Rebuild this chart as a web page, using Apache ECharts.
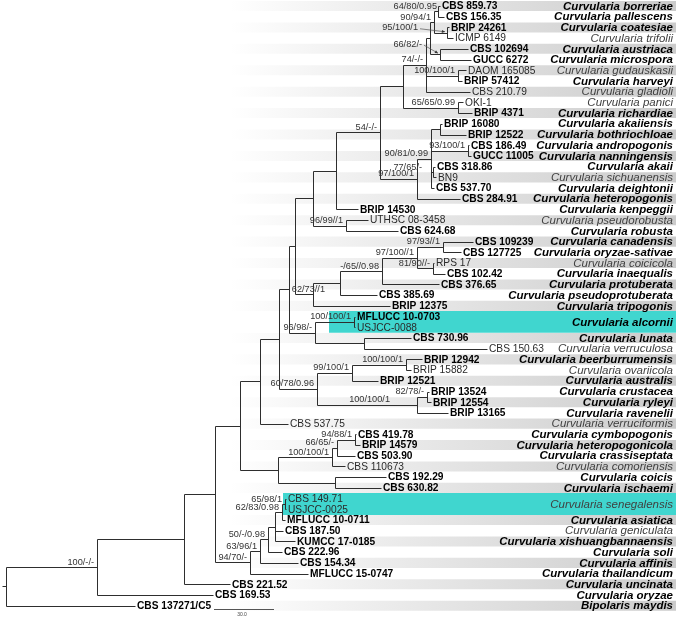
<!DOCTYPE html>
<html><head><meta charset="utf-8">
<script src="https://cdn.jsdelivr.net/npm/echarts@6/dist/echarts.min.js"></script>
<style>html,body{margin:0;padding:0;background:#fff}#c{width:676px;height:618px}</style>
</head><body><div id="c"></div>
<script>
// ---------------- DATA ----------------
const strains = ['CBS 859.73','CBS 156.35','BRIP 24261','ICMP 6149','CBS 102694','GUCC 6272','DAOM 165085','BRIP 57412','CBS 210.79','OKI-1','BRIP 4371','BRIP 16080','BRIP 12522','CBS 186.49','GUCC 11005','CBS 318.86','BN9','CBS 537.70','CBS 284.91','BRIP 14530','UTHSC 08-3458','CBS 624.68','CBS 109239','CBS 127725','RPS 17','CBS 102.42','CBS 376.65','CBS 385.69','BRIP 12375','MFLUCC 10-0703','USJCC-0088','CBS 730.96','CBS 150.63','BRIP 12942','BRIP 15882','BRIP 12521','BRIP 13524','BRIP 12554','BRIP 13165','CBS 537.75','CBS 419.78','BRIP 14579','CBS 503.90','CBS 110673','CBS 192.29','CBS 630.82','CBS 149.71','USJCC-0025','MFLUCC 10-0711','CBS 187.50','KUMCC 17-0185','CBS 222.96','CBS 154.34','MFLUCC 15-0747','CBS 221.52','CBS 169.53','CBS 137271/C5'];
const strainIsType = [1,1,1,0,1,1,0,1,0,0, 1,1,1,1,1,1,0,1,1,1, 0,1,1,1,0,1,1,1,1,1, 0,1,0,1,0,1,1,1,1,0, 1,1,1,0,1,1,0,0,1,1, 1,1,1,1,1,1,1];
const tipX = [440,444,449,453,468,471,466,462,470,463, 472,442,466,469,471,435,436,434,460,358, 368,398,473,461,434,445,439,377,390,355, 355,411,487,422,411,378,429,431,448,288, 356,360,355,345,386,381,286,286,285,283, 295,282,298,308,230,213,135];
const tipParent = ['N1','N1','N3','N3','N4','N4','Ndh','Ndh','N5','Npr', 'Npr','Nab','Nab','N93','N93','N77','N77','N90','N97','Nk', 'N96','N96','T','T','V','V','S','R','Q','Nalc', 'Nalc','Nlv','Nlv','N100a','N100a','N99','N82','N82','N100b','B260', 'N94a','N94a','N66','N100c','Nci','Nci','N65','N65','N62','Nge', 'Nge','N50','N63','N94','B184','A97','root'];

const species = ['Curvularia borreriae','Curvularia pallescens','Curvularia coatesiae','Curvularia trifolii','Curvularia austriaca','Curvularia microspora','Curvularia gudauskasii','Curvularia harveyi','Curvularia gladioli','Curvularia panici','Curvularia richardiae','Curvularia akaiiensis','Curvularia bothriochloae','Curvularia andropogonis','Curvularia nanningensis','Curvularia akaii','Curvularia sichuanensis','Curvularia deightonii','Curvularia heteropogonis','Curvularia kenpeggii','Curvularia pseudorobusta','Curvularia robusta','Curvularia canadensis','Curvularia oryzae-sativae','Curvularia coicicola','Curvularia inaequalis','Curvularia protuberata','Curvularia pseudoprotuberata','Curvularia tripogonis','Curvularia alcornii','Curvularia lunata','Curvularia verruculosa','Curvularia beerburrumensis','Curvularia ovariicola','Curvularia australis','Curvularia crustacea','Curvularia ryleyi','Curvularia ravenelii','Curvularia verruciformis','Curvularia cymbopogonis','Curvularia heteropogonicola','Curvularia crassiseptata','Curvularia comoriensis','Curvularia coicis','Curvularia ischaemi','Curvularia senegalensis','Curvularia asiatica','Curvularia geniculata','Curvularia xishuangbannaensis','Curvularia soli','Curvularia affinis','Curvularia thailandicum','Curvularia uncinata','Curvularia oryzae','Bipolaris maydis'];
const speciesStrainCount = species.map(s => (s === 'Curvularia alcornii' || s === 'Curvularia senegalensis') ? 2 : 1);
const speciesIsBold = [1,1,1,0,1,1,0,1,0,0, 1,1,1,1,1,1,0,1,1,1, 0,1,1,1,0,1,1,1,1,1, 1,0,1,0,1,1,1,1,0,1, 1,1,0,1,1,0,1,0,1,1, 1,1,1,1,1];
const highlightedSpecies = ['Curvularia alcornii','Curvularia senegalensis'];

const nodeIds = ['root','A97','B184','B215','B240','B260','B279','B289','P','Nc','Nk','N54','Ntop','N5','N6','N2','N1','N3','N4','Ndh','Npr','N90','Nab','N93','N97','N77','N96','Q','R','S','U','T','V','A96','Nalc','Nlv','N60','N99','N100a','N100b','N82','Ncym','N100c','N66','N94a','Nci','N94','N63','N50','Nge','N62','N65'];
const nodeParent = [null,'root','A97','B184','B215','B240','B260','B279','B289','P','Nc','Nk','N54','Ntop','N5','N6','N2','N2','N6','N5','Ntop','N97','N90','N90','N54','N90','Nc','P','Q','R','S','U','U','B289','A96','A96','B279','N60','N99','N60','N100b','B240','Ncym','N100c','N66','Ncym','B215','N94','N63','N50','Nge','N62'];
const nodeX = [6,97,184,215,240,260,279,289,295,313, 336,380,403,426,430,434,438,447,440,458, 458,431,440,468,417,433,346,313,340,382, 417,443,433,315,354,364,317,352,406,417, 427,278,332,337,355,335,250,260,268,275, 282,285];
const nodeSupport = ['','100/-/-','','','','','','','','', '','54/-/-','','74/-/-','','90/94/1','64/80/0.95','95/100/1','66/82/-','100/100/1', '65/65/0.99','90/81/0.99','','93/100/1','97/100/1','77/65/-','96/99//1','62/73//1','','-/65//0.98', '97/100//1','97/93//1','81/90//-','96/98/-','100/100/1','','60/78/0.96','99/100/1','100/100/1','100/100/1', '82/78/-','','100/100/1','66/65/-','94/88/1','','94/70/-','63/96/1','50/-/0.98','', '62/83/0.98','65/98/1'];
const scaleBarLength = 60;
const scaleBarLabel = '30.0';

// ---------------- LAYOUT / STYLE ----------------
const FONT = '"Liberation Sans", Arial, sans-serif';
const LINE = '#2e2e2e';
const layout = {
  bandX0: 230, rightX: 673, rootStem: 4, labelGap: 2,
  highlightX0: {'Curvularia alcornii': 329, 'Curvularia senegalensis': 283},
  supportOffset: { N3: {dx: -26, dy: 0, arrow: true}, N4: {dx: -15, dy: -5, arrow: true}, Q: {dx: 15, dy: 0}, N100b: {dx: -24, dy: 0}, N1: {dx: 2, dy: 0}, N77: {dx: -8, dy: 0} },
  scaleBarX: 214, scaleBarRow: 57.3
};

// ---------------- TREE BUILD ----------------
const idx = {}; nodeIds.forEach((id, i) => idx[id] = i);
const kids = nodeIds.map(() => []);
nodeParent.forEach((p, i) => { if (p) kids[idx[p]].push({t: 'n', i}); });
tipParent.forEach((p, i) => kids[idx[p]].push({t: 't', i}));
const nodeY = new Array(nodeIds.length);
function yOf(c) { return c.t === 't' ? c.i + 1 : calcY(c.i); }
function xOf(c) { return c.t === 't' ? tipX[c.i] : nodeX[c.i]; }
function calcY(i) {
  if (nodeY[i] !== undefined) return nodeY[i];
  const ys = kids[i].map(yOf);
  nodeY[i] = (Math.min(...ys) + Math.max(...ys)) / 2;
  return nodeY[i];
}
nodeIds.forEach((_, i) => calcY(i));

const segments = [];
nodeIds.forEach((id, i) => {
  const ys = kids[i].map(yOf);
  segments.push([nodeX[i], Math.min(...ys), nodeX[i], Math.max(...ys)]);
  kids[i].forEach(c => segments.push([nodeX[i], yOf(c), xOf(c), yOf(c)]));
});
const r = idx['root'];
segments.push([nodeX[r] - layout.rootStem, nodeY[r], nodeX[r], nodeY[r]]);

// species rows
const speciesRows = []; let rr = 1;
species.forEach((s, k) => { speciesRows.push([rr, rr + speciesStrainCount[k] - 1]); rr += speciesStrainCount[k]; });
const bandData = [], hiData = [];
species.forEach((s, k) => {
  if (highlightedSpecies.includes(s)) hiData.push([k, speciesRows[k][0], speciesRows[k][1]]);
  else if (k % 2 === 0) bandData.push([k, speciesRows[k][0], speciesRows[k][1]]);
});

const supportData = [];
nodeIds.forEach((id, i) => { if (nodeSupport[i]) supportData.push([nodeX[i], nodeY[i], i]); });

const crisp = v => Math.round(v) + 0.5;

const option = {
  animation: false,
  grid: {left: 0, right: 0, top: 6, bottom: 12.3},
  xAxis: {type: 'value', min: 0, max: 676, show: false},
  yAxis: {type: 'value', min: 1, max: 57, inverse: true, show: false},
  series: [
    { // grey bands
      type: 'custom', silent: true, clip: false, z: 1, data: bandData,
      renderItem: (p, api) => {
        const a = api.coord([layout.bandX0, api.value(1) - 0.47]);
        const b = api.coord([676, api.value(2) + 0.47]);
        return {type: 'rect', shape: {x: a[0], y: a[1], width: b[0] - a[0], height: b[1] - a[1]},
          style: {fill: new echarts.graphic.LinearGradient(0, 0, 1, 0, [
            {offset: 0, color: 'rgba(255,255,255,1)'}, {offset: 0.4, color: '#e9e9e9'}, {offset: 1, color: '#cbcbcb'}])}};
      }
    },
    { // highlight
      type: 'custom', silent: true, clip: false, z: 2, data: hiData,
      renderItem: (p, api) => {
        const s = species[api.value(0)];
        const a = api.coord([layout.highlightX0[s], api.value(1) - 0.52]);
        const b = api.coord([676, api.value(2) + 0.52]);
        return {type: 'rect', shape: {x: a[0], y: a[1], width: b[0] - a[0], height: b[1] - a[1]}, style: {fill: '#40d6cf'}};
      }
    },
    { // branches
      type: 'custom', silent: true, clip: false, z: 3, data: segments,
      renderItem: (p, api) => {
        const a = api.coord([api.value(0), api.value(1)]);
        const b = api.coord([api.value(2), api.value(3)]);
        return {type: 'line', shape: {x1: crisp(a[0]), y1: crisp(a[1]), x2: crisp(b[0]), y2: crisp(b[1])},
          style: {stroke: LINE, lineWidth: 1}};
      }
    },
    { // strain labels
      type: 'custom', silent: true, clip: false, z: 4,
      data: strains.map((s, i) => [tipX[i], i + 1]),
      renderItem: (p, api) => {
        const i = p.dataIndex;
        const c = api.coord([api.value(0), api.value(1)]);
        return {type: 'text', x: c[0] + layout.labelGap, y: c[1] + 0.5,
          style: {text: strains[i], font: (strainIsType[i] ? 'bold ' : '') + '10.2px ' + FONT,
            fill: strainIsType[i] ? '#000' : '#2a2a2a', align: 'left', verticalAlign: 'middle'}};
      }
    },
    { // species labels
      type: 'custom', silent: true, clip: false, z: 4,
      data: species.map((s, k) => [layout.rightX, (speciesRows[k][0] + speciesRows[k][1]) / 2]),
      renderItem: (p, api) => {
        const k = p.dataIndex;
        const c = api.coord([api.value(0), api.value(1)]);
        return {type: 'text', x: c[0], y: c[1] + 0.5,
          style: {text: species[k], font: 'italic ' + (speciesIsBold[k] ? 'bold ' : '') + '11.5px ' + FONT,
            fill: speciesIsBold[k] ? '#000' : '#404040', align: 'right', verticalAlign: 'middle'}};
      }
    },
    { // support values
      type: 'custom', silent: true, clip: false, z: 5, data: supportData,
      renderItem: (p, api) => {
        const i = api.value(2);
        const id = nodeIds[i];
        const off = layout.supportOffset[id] || {dx: 0, dy: 0};
        const c = api.coord([api.value(0), api.value(1)]);
        const tx = c[0] - 3 + off.dx, ty = c[1] - 5 + off.dy;
        const children = [{type: 'text', x: tx, y: ty,
          style: {text: nodeSupport[i], font: '9.2px ' + FONT, fill: '#333', align: 'right', verticalAlign: 'middle'}}];
        if (off.arrow) {
          const x1 = tx + 2, y1 = ty + 1, x2 = c[0] - 2, y2 = c[1] - 1;
          const ang = Math.atan2(y2 - y1, x2 - x1), L = 3.5;
          children.push({type: 'line', shape: {x1, y1, x2, y2}, style: {stroke: '#555', lineWidth: 0.7}});
          children.push({type: 'polygon', shape: {points: [[x2, y2],
            [x2 - L * Math.cos(ang - 0.45), y2 - L * Math.sin(ang - 0.45)],
            [x2 - L * Math.cos(ang + 0.45), y2 - L * Math.sin(ang + 0.45)]]}, style: {fill: '#333'}});
        }
        return {type: 'group', children};
      }
    },
    { // scale bar
      type: 'custom', silent: true, clip: false, z: 5,
      data: [[layout.scaleBarX, layout.scaleBarRow, scaleBarLength]],
      renderItem: (p, api) => {
        const a = api.coord([api.value(0), api.value(1)]);
        const b = api.coord([api.value(0) + api.value(2), api.value(1)]);
        return {type: 'group', children: [
          {type: 'line', shape: {x1: a[0], y1: crisp(a[1]), x2: b[0], y2: crisp(a[1])}, style: {stroke: '#555', lineWidth: 1}},
          {type: 'text', x: (a[0] + b[0]) / 2 - 2, y: a[1] + 6, style: {text: scaleBarLabel, font: '5px ' + FONT, fill: '#444', align: 'center', verticalAlign: 'middle'}}
        ]};
      }
    }
  ]
};
const chart = echarts.init(document.getElementById('c'));
chart.setOption(option);
</script></body></html>
